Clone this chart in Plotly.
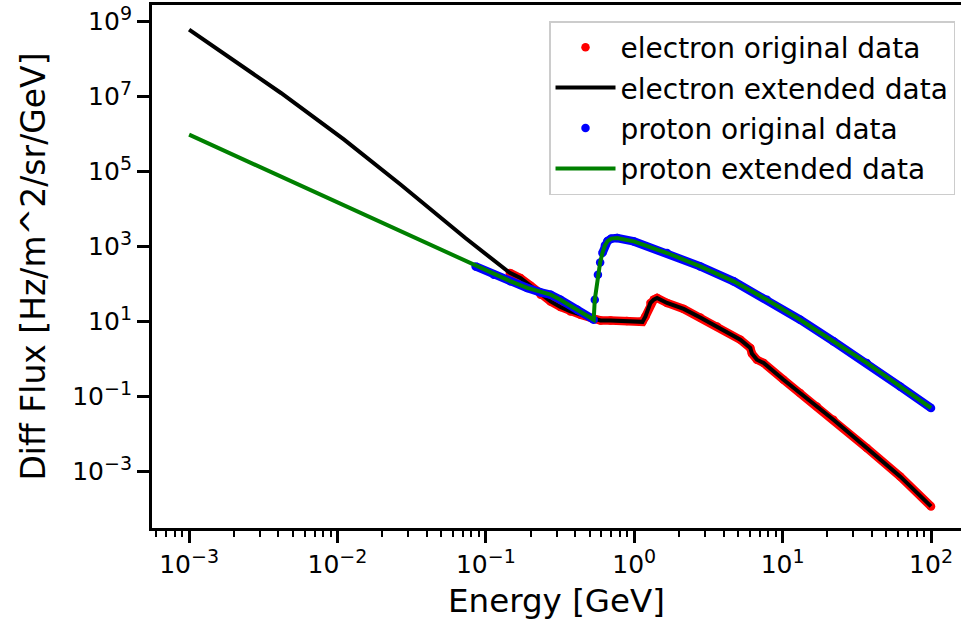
import math
import plotly.graph_objects as go

# ---------------- data ----------------
electron_E = [0.145, 0.171, 0.200, 0.234, 0.273, 0.318, 0.372, 0.435, 0.533, 0.593,
              0.692, 0.891, 1.096, 1.135, 1.19, 1.285, 1.352, 1.426, 1.663, 2.153,
              2.786, 3.614, 5.19, 6.05, 6.21, 6.71, 7.45, 10.14, 13.12, 17.0,
              22.0, 36.9, 61.9, 100.0]
electron_flux = [200, 146, 91, 52.5, 34.8, 24.7, 18.8, 15.4, 12.0, 10.8,
                 10.7, 10.5, 10.0, 9.9, 13.8, 31.6, 38.6, 42.9, 31.6, 21.9,
                 12.9, 7.5, 3.31, 2.0, 1.41, 0.97, 0.79, 0.284, 0.126, 0.0551,
                 0.0244, 0.00428, 7.5e-4, 1.19e-4]

proton_E = [0.0853, 0.1132, 0.147, 0.190, 0.234, 0.273, 0.318, 0.413, 0.533, 0.542,
            0.569, 0.589, 0.610, 0.634, 0.661, 0.700, 0.767, 0.993, 1.663, 2.786,
            4.677, 7.834, 13.12, 22.03, 36.9, 61.9, 100.0]
proton_flux = [298.5, 179, 119, 79.3, 60.4, 52.5, 38.6, 20.9, 11.3, 38.6,
               178, 380, 676, 1072, 1413, 1641, 1706, 1384, 679, 298.5,
               119, 38.6, 11.3, 2.99, 0.792, 0.188, 0.05]

# low-energy extensions (below the original data)
electron_ext_low_E = [0.001, 0.004159, 0.01109, 0.02673, 0.0731]
electron_ext_low_flux = [6.12e8, 1.256e7, 7.13e5, 4.50e4, 1680]
proton_ext_low_E = [0.001, 0.005623, 0.02673]
proton_ext_low_flux = [9.7e5, 4.27e4, 2512]

series_names = ["electron original data", "electron extended data",
                "proton original data", "proton extended data"]

x_tick_vals = [1e-3, 1e-2, 1e-1, 1, 10, 100]
x_tick_exps = ["\u22123", "\u22122", "\u22121", "0", "1", "2"]
y_tick_vals = [1e-3, 1e-1, 1e1, 1e3, 1e5, 1e7, 1e9]
y_tick_exps = ["\u22123", "\u22121", "1", "3", "5", "7", "9"]
x_minor_vals = [m * 10.0 ** k for k in range(-4, 3) for m in range(2, 10)]

FONT = "DejaVu Sans"
TICK_SIZE = 25
SUP_SIZE = 19


def pow_label(exp):
    return "10<sup><span style=\"font-size:%dpx\">%s</span></sup>" % (SUP_SIZE, exp)


def band(E, F, max_slope=15.0):
    """Join dense neighbouring points into a thick band (like overlapping dots);
    leave steep, widely spaced points as separate dots."""
    xs, ys = [E[0]], [F[0]]
    for i in range(1, len(E)):
        s = abs((math.log10(F[i]) - math.log10(F[i - 1])) /
                (math.log10(E[i]) - math.log10(E[i - 1])))
        if s > max_slope:
            xs.append(None)
            ys.append(None)
        xs.append(E[i])
        ys.append(F[i])
    return xs, ys


fig = go.Figure()

DOT = 8.5
eb_x, eb_y = band(electron_E, electron_flux)
fig.add_trace(go.Scatter(x=eb_x, y=eb_y, mode="lines", line=dict(color="#ff0000", width=DOT),
                         showlegend=False, hoverinfo="skip", connectgaps=False, legendgroup="g1"))
fig.add_trace(go.Scatter(x=electron_E, y=electron_flux, mode="markers", name=series_names[0],
                         marker=dict(color="#ff0000", size=DOT, line=dict(width=0)),
                         legendgroup="g1"))
fig.add_trace(go.Scatter(x=electron_ext_low_E + electron_E,
                         y=electron_ext_low_flux + electron_flux,
                         mode="lines", name=series_names[1],
                         line=dict(color="black", width=4), legendgroup="g2"))
pb_x, pb_y = band(proton_E, proton_flux)
fig.add_trace(go.Scatter(x=pb_x, y=pb_y, mode="lines", line=dict(color="#0000ff", width=DOT),
                         showlegend=False, hoverinfo="skip", connectgaps=False, legendgroup="g3"))
fig.add_trace(go.Scatter(x=proton_E, y=proton_flux, mode="markers", name=series_names[2],
                         marker=dict(color="#0000ff", size=DOT, line=dict(width=0)),
                         legendgroup="g3"))
fig.add_trace(go.Scatter(x=proton_ext_low_E + proton_E,
                         y=proton_ext_low_flux + proton_flux,
                         mode="lines", name=series_names[3],
                         line=dict(color="#008000", width=4), legendgroup="g4"))

axis_common = dict(
    showline=True, linewidth=3, linecolor="black",
    ticks="outside", ticklen=12, tickwidth=2.5, tickcolor="black",
    showgrid=False, zeroline=False,
    tickfont=dict(family=FONT, size=TICK_SIZE, color="black"),
)

fig.update_layout(
    width=961, height=624,
    margin=dict(l=152, r=0, t=5, b=96),
    paper_bgcolor="white", plot_bgcolor="white",
    font=dict(family=FONT, color="black"),
    xaxis=dict(type="log", range=[-3.25, 2.202], mirror=True,
               tickmode="array", tickvals=x_tick_vals,
               ticktext=[pow_label(e) for e in x_tick_exps],
               minor=dict(tickmode="array", tickvals=x_minor_vals, ticks="outside",
                          ticklen=6, tickwidth=2, tickcolor="black", showgrid=False),
               title=dict(text="Energy [GeV]", font=dict(family=FONT, size=32.5), standoff=12),
               **axis_common),
    yaxis=dict(type="log", range=[-4.501, 9.445],
               tickmode="array", tickvals=y_tick_vals,
               ticktext=[pow_label(e) for e in y_tick_exps],
               title=dict(text="Diff Flux [Hz/m^2/sr/GeV]", font=dict(family=FONT, size=33),
                          standoff=17),
               **axis_common),
    legend=dict(x=0.9926, y=0.9694, xanchor="right", yanchor="top",
                bgcolor="rgba(255,255,255,0.8)", bordercolor="#cccccc", borderwidth=1.5,
                font=dict(family=FONT, size=28, color="black"),
                traceorder="grouped", tracegroupgap=1, itemwidth=60),
    showlegend=True,
)

fig.write_html("out.html")
